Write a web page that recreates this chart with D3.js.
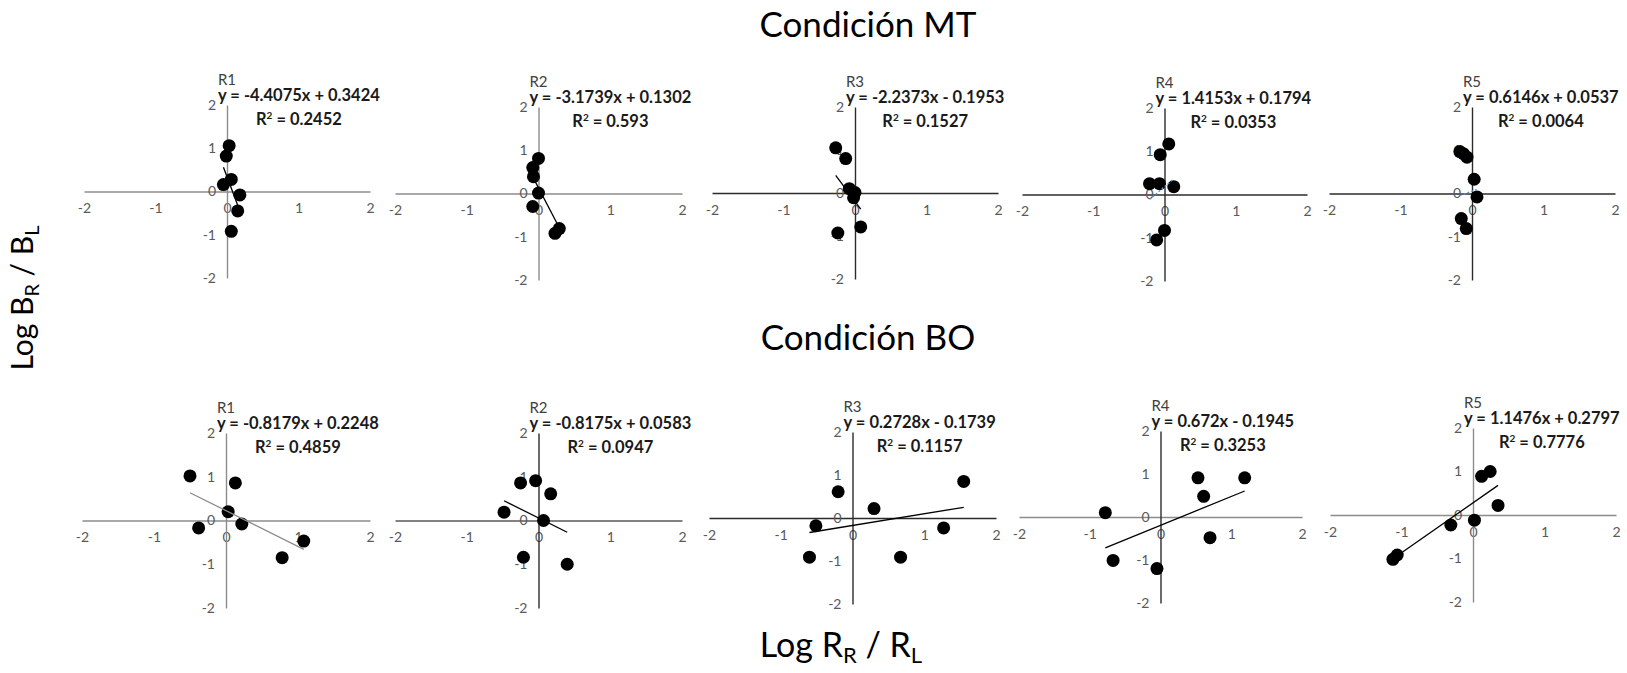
<!DOCTYPE html>
<html>
<head>
<meta charset="utf-8">
<script src="https://cdn.jsdelivr.net/npm/d3@7"></script>
<style>
  html, body { margin: 0; padding: 0; background: #fff; }
  svg { display: block; font-family: Lato, "Open Sans", sans-serif; }
</style>
</head>
<body>
<div id="grafico"></div>
<script>
// --- Datos ---
const titulos = ['Condición MT', 'Condición BO'];
const etiquetas = ['R1', 'R2', 'R3', 'R4', 'R5'];
const ticks = [-2, -1, 0, 1, 2];

// puntos [log RR/RL, log BR/BL] por sujeto
const puntosMT = [
  [[0.03, 1.06], [-0.01, 0.82], [0.06, 0.28], [-0.05, 0.16], [0.18, -0.08], [0.15, -0.45], [0.06, -0.92]],
  [[0.0, 0.81], [-0.08, 0.60], [-0.07, 0.39], [0.0, 0.01], [-0.08, -0.30], [0.29, -0.81], [0.23, -0.92]],
  [[-0.27, 1.05], [-0.13, 0.80], [-0.08, 0.10], [0.0, 0.01], [-0.02, -0.11], [0.08, -0.79], [-0.24, -0.93]],
  [[0.06, 1.17], [-0.06, 0.92], [-0.21, 0.25], [-0.07, 0.25], [0.13, 0.18], [0.0, -0.83], [-0.11, -1.05]],
  [[-0.17, 0.97], [-0.12, 0.92], [-0.07, 0.84], [0.03, 0.33], [0.07, -0.08], [-0.15, -0.58], [-0.08, -0.81]]
];
const puntosBO = [
  [[-0.50, 1.02], [0.13, 0.86], [0.03, 0.20], [0.22, -0.08], [-0.38, -0.17], [1.08, -0.47], [0.78, -0.85]],
  [[-0.25, 0.86], [-0.04, 0.91], [0.17, 0.61], [-0.48, 0.19], [0.07, 0.0], [-0.21, -0.84], [0.40, -1.00]],
  [[1.55, 0.85], [-0.20, 0.61], [0.30, 0.22], [-0.51, -0.18], [1.27, -0.23], [-0.60, -0.91], [0.67, -0.91]],
  [[0.53, 0.91], [1.19, 0.91], [0.61, 0.48], [-0.78, 0.10], [0.70, -0.48], [-0.67, -1.01], [-0.05, -1.20]],
  [[0.24, 1.00], [0.12, 0.89], [0.35, 0.22], [-0.31, -0.23], [0.02, -0.12], [-1.06, -0.92], [-1.12, -1.02]]
];

// rectas de regresión
const pendientesMT = [-4.4075, -3.1739, -2.2373, 1.4153, 0.6146];
const interceptosMT = [0.3424, 0.1302, -0.1953, 0.1794, 0.0537];
const r2MT = ['0.2452', '0.593', '0.1527', '0.0353', '0.0064'];
const pendientesBO = [-0.8179, -0.8175, 0.2728, 0.672, 1.1476];
const interceptosBO = [0.2248, 0.0583, -0.1739, -0.1945, 0.2797];
const r2BO = ['0.4859', '0.0947', '0.1157', '0.3253', '0.7776'];

// --- Disposición ---
const W = 1627, H = 673;
// [x izq, x der, y arriba, y abajo] de cada panel
const cajasMT = [[84, 370, 105, 278], [395, 682, 107, 280], [712, 998, 107, 279], [1022, 1307, 108, 281], [1329, 1615, 107, 280]];
const cajasBO = [[82, 370, 433, 608], [395, 682, 433, 608], [709, 996, 432, 604], [1019, 1302, 431, 603], [1330, 1616, 428, 602]];
const GRIS = '#8c8c8c', OSCURO = '#2b2b2b';
const ejesMT = [[GRIS, GRIS], [GRIS, GRIS], [OSCURO, OSCURO], [OSCURO, OSCURO], [OSCURO, OSCURO]];
const ejesBO = [[GRIS, GRIS], ['#595959', OSCURO], [OSCURO, OSCURO], [GRIS, OSCURO], [GRIS, GRIS]];
const lineaMT = [{ c: '#000' }, { c: '#000' }, { c: '#000' }, { c: '#5b9bd5', d: '2,2' }, { c: '#5b9bd5', d: '2,2' }];
const lineaBO = [{ c: GRIS }, { c: '#000' }, { c: '#000' }, { c: '#000' }, { c: '#000' }];

const svg = d3.select('#grafico').append('svg')
  .attr('width', W)
  .attr('height', H);

function fmtEcuacion(m, b) {
  const signo = b < 0 ? ' - ' : ' + ';
  return `y = ${m}x${signo}${Math.abs(b)}`;
}

function panel(caja, puntos, m, b, r2, etiqueta, colEjes, estiloLinea) {
  const x = d3.scaleLinear().domain([-2, 2]).range([caja[0], caja[1]]);
  const y = d3.scaleLinear().domain([-2, 2]).range([caja[3], caja[2]]);
  const g = svg.append('g');

  // eje x (cruza en y = 0)
  const ejeX = g.append('g')
    .attr('transform', `translate(0,${y(0)})`)
    .call(d3.axisBottom(x).tickValues(ticks).tickSize(0).tickPadding(12).tickFormat(d => d));
  ejeX.select('.domain').attr('stroke', colEjes[0]).attr('stroke-width', 1.4);

  // eje y (cruza en x = 0)
  const ejeY = g.append('g')
    .attr('transform', `translate(${x(0)},0)`)
    .call(d3.axisLeft(y).tickValues(ticks).tickSize(0).tickPadding(11).tickFormat(d => d));
  ejeY.select('.domain').attr('stroke', colEjes[1]).attr('stroke-width', 1.4);

  g.selectAll('.tick text')
    .attr('font-family', 'Lato, sans-serif')
    .attr('font-size', 14)
    .attr('fill', '#595959');

  // puntos
  g.append('g').selectAll('circle')
    .data(puntos)
    .join('circle')
    .attr('cx', d => x(d[0]))
    .attr('cy', d => y(d[1]))
    .attr('r', 6.5)
    .attr('fill', '#000');

  // recta de regresión en el rango de los datos
  const ext = d3.extent(puntos, d => d[0]);
  g.append('line')
    .attr('x1', x(ext[0]))
    .attr('y1', y(m * ext[0] + b))
    .attr('x2', x(ext[1]))
    .attr('y2', y(m * ext[1] + b))
    .attr('stroke', estiloLinea.c)
    .attr('stroke-width', 1.3)
    .attr('stroke-dasharray', estiloLinea.d || null);

  // etiqueta del sujeto
  g.append('text')
    .attr('x', x(0))
    .attr('y', y(2) - 20)
    .attr('text-anchor', 'middle')
    .attr('font-size', 15)
    .attr('fill', '#404040')
    .text(etiqueta);

  // ecuación y R²
  const eq = g.append('text')
    .attr('x', x(0) - 9)
    .attr('y', y(2) - 4)
    .attr('font-size', 16.5)
    .attr('font-weight', 'bold')
    .attr('fill', '#1a1a1a')
    .text(fmtEcuacion(m, b));
  const ancho = eq.node().getComputedTextLength();

  const r = g.append('text')
    .attr('x', x(0) - 9 + ancho / 2)
    .attr('y', y(2) + 20)
    .attr('text-anchor', 'middle')
    .attr('font-size', 16.5)
    .attr('font-weight', 'bold')
    .attr('fill', '#1a1a1a');
  r.append('tspan').text('R');
  r.append('tspan').attr('font-size', 10).attr('dy', -6).text('2');
  r.append('tspan').attr('dy', 6).text(` = ${r2}`);
}

etiquetas.forEach((et, i) => {
  panel(cajasMT[i], puntosMT[i], pendientesMT[i], interceptosMT[i], r2MT[i], et, ejesMT[i], lineaMT[i]);
  panel(cajasBO[i], puntosBO[i], pendientesBO[i], interceptosBO[i], r2BO[i], et, ejesBO[i], lineaBO[i]);
});

// títulos de condición
[37, 350].forEach((yy, i) => {
  svg.append('text')
    .attr('x', 868)
    .attr('y', yy)
    .attr('text-anchor', 'middle')
    .attr('font-size', 35)
    .attr('fill', '#000')
    .text(titulos[i]);
});

// título eje y: Log BR / BL
const ty = svg.append('text')
  .attr('transform', 'translate(33,298) rotate(-90)')
  .attr('text-anchor', 'middle')
  .attr('font-size', 30)
  .attr('fill', '#000');
ty.append('tspan').text('Log B');
ty.append('tspan').attr('font-size', 20).attr('dy', 6).text('R');
ty.append('tspan').attr('dy', -6).text(' / B');
ty.append('tspan').attr('font-size', 20).attr('dy', 6).text('L');

// título eje x: Log RR / RL
const tx = svg.append('text')
  .attr('x', 841)
  .attr('y', 657)
  .attr('text-anchor', 'middle')
  .attr('font-size', 34)
  .attr('fill', '#000');
tx.append('tspan').text('Log R');
tx.append('tspan').attr('font-size', 22).attr('dy', 6).text('R');
tx.append('tspan').attr('dy', -6).text(' / R');
tx.append('tspan').attr('font-size', 22).attr('dy', 6).text('L');
</script>
</body>
</html>
